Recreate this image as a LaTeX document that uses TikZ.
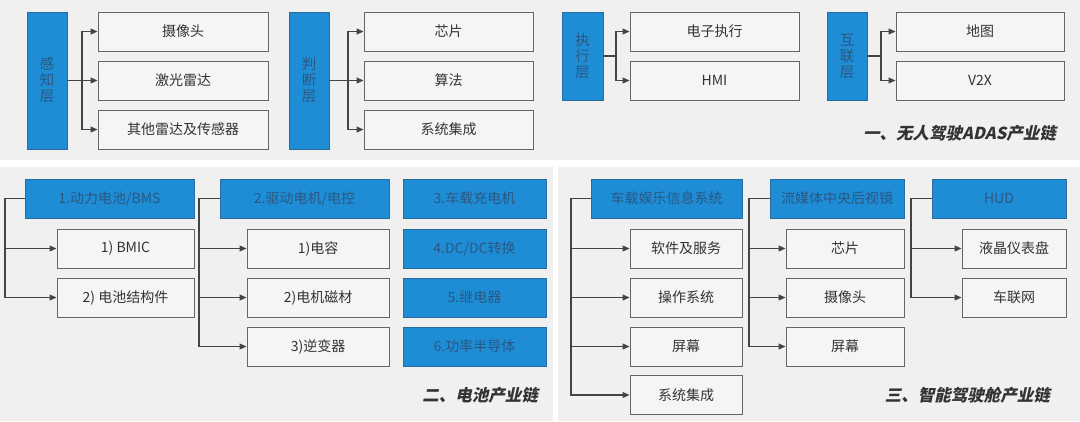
\documentclass[tikz,border=0pt]{standalone}
\usepackage{fontspec}
\setmainfont{Noto Sans CJK SC}
\newfontfamily\titlefont[FakeSlant=0.22]{Noto Sans CJK SC}
\usetikzlibrary{arrows.meta}
\definecolor{panel}{HTML}{F0F0F0}
\definecolor{boxfill}{HTML}{F5F5F5}
\definecolor{boxline}{HTML}{666666}
\definecolor{txt}{HTML}{333333}
\definecolor{blue1}{HTML}{1E8DD6}
\definecolor{bblue}{HTML}{2B6C9E}
\definecolor{btxt}{HTML}{2A5883}
\definecolor{cline}{HTML}{444444}
\definecolor{ttl}{HTML}{333333}
\begin{document}
\begin{tikzpicture}[x=1pt,y=-1pt,
  gbox/.style={draw=boxline, fill=boxfill, line width=1pt, inner sep=0pt, minimum height=39pt, text=txt, font=\fontsize{14}{16}\selectfont},
  bbox/.style={draw=bblue, fill=blue1, line width=0.8pt, inner sep=0pt, minimum height=39pt, text=btxt, font=\fontsize{14}{16}\selectfont},
  vbox/.style={bbox, align=center, font=\fontsize{14.5}{16}\selectfont},
  conn/.style={draw=cline, line width=1.1pt},
  arr/.style={conn, -{Triangle[length=7pt,width=6pt]}},
  ttlstyle/.style={font=\titlefont\bfseries\fontsize{16.5}{18}\selectfont, text=ttl, anchor=east, inner sep=0pt}]
\useasboundingbox (0,0) rectangle (1080,421);
\fill[white] (0,0) rectangle (1080,421);
\fill[panel] (0,0) rectangle (1080,160);
\fill[panel] (0,167) rectangle (553,421);
\fill[panel] (558,167) rectangle (1080,421);

% ---------- top panel ----------
\node[vbox, minimum width=40pt, minimum height=137pt] (A0) at (47,80.5) {感\\知\\层};
\node[gbox, minimum width=170pt] (A1) at (183,31.5) {摄像头};
\node[gbox, minimum width=170pt] (A2) at (183,80.5) {激光雷达};
\node[gbox, minimum width=170pt] (A3) at (183,129.5) {其他雷达及传感器};
\coordinate (aT) at (82,80.5);
\draw[conn] (A0.east) -- (aT);
\draw[arr] (aT) |- (A1.west);
\draw[arr] (aT) -- (A2.west);
\draw[arr] (aT) |- (A3.west);

\node[vbox, minimum width=40pt, minimum height=137pt] (B0) at (309,80.5) {判\\断\\层};
\node[gbox, minimum width=169pt] (B1) at (448.5,31.5) {芯片};
\node[gbox, minimum width=169pt] (B2) at (448.5,80.5) {算法};
\node[gbox, minimum width=169pt] (B3) at (448.5,129.5) {系统集成};
\coordinate (bT) at (348,80.5);
\draw[conn] (B0.east) -- (bT);
\draw[arr] (bT) |- (B1.west);
\draw[arr] (bT) -- (B2.west);
\draw[arr] (bT) |- (B3.west);

\node[vbox, minimum width=41pt, minimum height=88pt] (C0) at (582.5,56) {执\\行\\层};
\node[gbox, minimum width=169pt] (C1) at (714.5,31.5) {电子执行};
\node[gbox, minimum width=169pt] (C2) at (714.5,80.5) {HMI};
\coordinate (cT) at (616,56);
\draw[conn] (C0.east) -- (cT);
\draw[arr] (cT) |- (C1.west);
\draw[arr] (cT) |- (C2.west);

\node[vbox, minimum width=40pt, minimum height=88pt] (D0) at (847,56) {互\\联\\层};
\node[gbox, minimum width=168pt] (D1) at (980,31.5) {地图};
\node[gbox, minimum width=168pt] (D2) at (980,80.5) {V2X};
\coordinate (dT) at (881,56);
\draw[conn] (D0.east) -- (dT);
\draw[arr] (dT) |- (D1.west);
\draw[arr] (dT) |- (D2.west);

\node[ttlstyle] (T1) at (1056,133) {一、无人驾驶ADAS产业链};

% ---------- bottom-left panel ----------
\node[bbox, minimum width=169pt] (E0) at (109.5,198.5) {1.动力电池/BMS};
\node[gbox, minimum width=137pt] (E1) at (125.5,248.5) {1) BMIC};
\node[gbox, minimum width=137pt] (E2) at (125.5,297.5) {2) 电池结构件};
\coordinate (eT) at (5,198.5);
\draw[arr] (E0.west) -- (eT) |- (E2.west);
\draw[arr] (eT |- E1.west) -- (E1.west);

\node[bbox, minimum width=169pt] (F0) at (304.5,198.5) {2.驱动电机/电控};
\node[gbox, minimum width=142pt] (F1) at (318,248.5) {1)电容};
\node[gbox, minimum width=142pt] (F2) at (318,297.5) {2)电机磁材};
\node[gbox, minimum width=142pt] (F3) at (318,346.5) {3)逆变器};
\coordinate (fT) at (199,198.5);
\draw[arr] (F0.west) -- (fT) |- (F3.west);
\draw[arr] (fT |- F1.west) -- (F1.west);
\draw[arr] (fT |- F2.west) -- (F2.west);

\node[bbox, minimum width=143pt] (G0) at (474.5,198.5) {3.车载充电机};
\node[bbox, minimum width=143pt] (G1) at (474.5,248.5) {4.DC/DC转换};
\node[bbox, minimum width=143pt] (G2) at (474.5,297.5) {5.继电器};
\node[bbox, minimum width=143pt] (G3) at (474.5,346.5) {6.功率半导体};

\node[ttlstyle] (T2) at (538,395) {二、电池产业链};

% ---------- bottom-right panel ----------
\node[bbox, minimum width=151pt] (H0) at (666.5,198.5) {车载娱乐信息系统};
\node[gbox, minimum width=112pt] (H1) at (686,248.5) {软件及服务};
\node[gbox, minimum width=112pt] (H2) at (686,297.5) {操作系统};
\node[gbox, minimum width=112pt] (H3) at (686,346.5) {屏幕};
\node[gbox, minimum width=112pt] (H4) at (686,395) {系统集成};
\coordinate (hT) at (571,198.5);
\draw[arr] (H0.west) -- (hT) |- (H4.west);
\draw[arr] (hT |- H1.west) -- (H1.west);
\draw[arr] (hT |- H2.west) -- (H2.west);
\draw[arr] (hT |- H3.west) -- (H3.west);

\node[bbox, minimum width=134pt] (I0) at (837,198.5) {流媒体中央后视镜};
\node[gbox, minimum width=118pt] (I1) at (845,248.5) {芯片};
\node[gbox, minimum width=118pt] (I2) at (845,297.5) {摄像头};
\node[gbox, minimum width=118pt] (I3) at (845,346.5) {屏幕};
\coordinate (iT) at (749,198.5);
\draw[arr] (I0.west) -- (iT) |- (I3.west);
\draw[arr] (iT |- I1.west) -- (I1.west);
\draw[arr] (iT |- I2.west) -- (I2.west);

\node[bbox, minimum width=134pt] (J0) at (999,198.5) {HUD};
\node[gbox, minimum width=104pt] (J1) at (1014,248.5) {液晶仪表盘};
\node[gbox, minimum width=104pt] (J2) at (1014,297.5) {车联网};
\coordinate (jT) at (911,198.5);
\draw[arr] (J0.west) -- (jT) |- (J2.west);
\draw[arr] (jT |- J1.west) -- (J1.west);

\node[ttlstyle] (T3) at (1050,395) {三、智能驾驶舱产业链};
\end{tikzpicture}
\end{document}
